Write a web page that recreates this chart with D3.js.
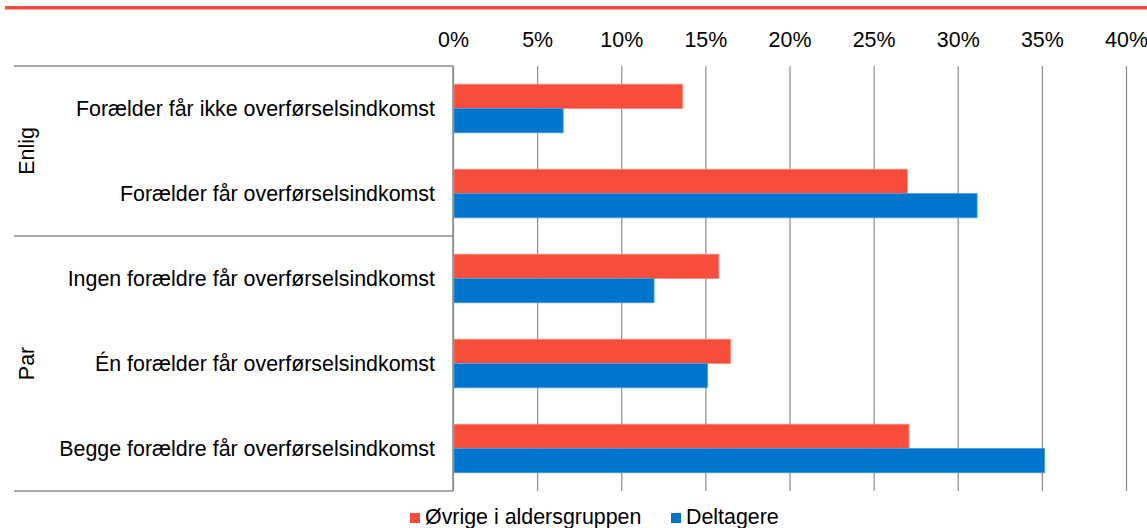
<!DOCTYPE html>
<html>
<head>
<meta charset="utf-8">
<script src="https://cdn.jsdelivr.net/npm/d3@7"></script>
<style>
  body { margin: 0; background: #fff; }
  text { font-family: "Liberation Sans", Arial, sans-serif; fill: #000; }
</style>
</head>
<body>
<div id="chart-container"></div>
<script>
// Chart data
const categories = [
  "Forælder får ikke overførselsindkomst",
  "Forælder får overførselsindkomst",
  "Ingen forældre får overførselsindkomst",
  "Én forælder får overførselsindkomst",
  "Begge forældre får overførselsindkomst"
];
const groups = [
  { name: "Enlig", count: 2 },
  { name: "Par", count: 3 }
];
const seriesNames = ["Øvrige i aldersgruppen", "Deltagere"];
const ovrige = [13.65, 27.0, 15.8, 16.5, 27.1];
const deltagere = [6.55, 31.15, 11.95, 15.13, 35.17];
const xTicks = [0, 5, 10, 15, 20, 25, 30, 35, 40];

(() => {
  const width = 1147, height = 528;
  const colors = ["#f94d3c", "#0075cd"];
  const strokes = ["#fb8a7e", "#4b9be0"];
  const values = [ovrige, deltagere];
  const fontSize = "21.4px";

  const svg = d3.select("#chart-container")
    .append("svg")
    .attr("width", width)
    .attr("height", height);

  // red line across the top
  svg.append("rect")
    .attr("x", 5).attr("y", 6)
    .attr("width", width - 5).attr("height", 3.5)
    .attr("fill", colors[0]);

  const plotTop = 66, plotBottom = 491;

  // X scale
  const x = d3.scaleLinear()
    .domain([0, 40])
    .range([453, 1126]);

  // Y scale for categories
  const y = d3.scaleBand()
    .domain(categories)
    .range([plotTop, plotBottom])
    .padding(0);

  // series inside each category
  const ySub = d3.scaleBand()
    .domain(seriesNames)
    .range([0, y.bandwidth()])
    .paddingInner(0)
    .paddingOuter(0.75);

  // top axis with gridlines
  const xAxis = d3.axisTop(x)
    .tickValues(xTicks)
    .tickSize(-(plotBottom - plotTop))
    .tickPadding(19)
    .tickFormat(d => d + "%");

  const gx = svg.append("g")
    .attr("transform", `translate(0,${plotTop})`)
    .call(xAxis);
  gx.select(".domain").remove();
  gx.selectAll(".tick line")
    .attr("stroke", "#8c8c8c")
    .attr("stroke-width", 1.2);
  gx.selectAll(".tick text")
    .style("font-size", fontSize)
    .style("font-family", "Liberation Sans, Arial, sans-serif")
    .attr("fill", "#000");

  // bars
  seriesNames.forEach((s, i) => {
    svg.selectAll(".bar-" + i)
      .data(categories)
      .enter().append("rect")
      .attr("class", "bar-" + i)
      .attr("x", x(0) + 1)
      .attr("y", d => y(d) + ySub(s))
      .attr("width", (d, j) => x(values[i][j]) - x(0) - 1)
      .attr("height", ySub.bandwidth())
      .attr("fill", colors[i])
      .attr("stroke", strokes[i])
      .attr("stroke-width", 0.8);
  });

  // category axis (multi-level box)
  const axisColor = "#8c8c8c";
  svg.append("line")
    .attr("x1", x(0)).attr("x2", x(0))
    .attr("y1", plotTop).attr("y2", plotBottom)
    .attr("stroke", axisColor).attr("stroke-width", 1.5);

  const boundaries = [plotTop];
  let acc = 0;
  groups.forEach(g => {
    acc += g.count;
    boundaries.push(y(categories[acc - 1]) + y.bandwidth());
  });
  svg.selectAll(".group-line")
    .data(boundaries)
    .enter().append("line")
    .attr("class", "group-line")
    .attr("x1", 14).attr("x2", x(0))
    .attr("y1", d => d).attr("y2", d => d)
    .attr("stroke", axisColor).attr("stroke-width", 1.5);

  // category labels
  svg.selectAll(".cat-label")
    .data(categories)
    .enter().append("text")
    .attr("class", "cat-label")
    .attr("x", x(0) - 18)
    .attr("y", d => y(d) + y.bandwidth() / 2)
    .attr("dy", "0.33em")
    .attr("text-anchor", "end")
    .style("font-size", fontSize)
    .text(d => d);

  // group labels, rotated
  svg.selectAll(".group-label")
    .data(groups)
    .enter().append("text")
    .attr("class", "group-label")
    .attr("transform", (g, i) => {
      const cy = (boundaries[i] + boundaries[i + 1]) / 2;
      return `translate(34,${cy}) rotate(-90)`;
    })
    .attr("text-anchor", "middle")
    .style("font-size", fontSize)
    .text(g => g.name);

  // legend
  const legendX = [410, 671];
  const legend = svg.selectAll(".legend")
    .data(seriesNames)
    .enter().append("g")
    .attr("class", "legend")
    .attr("transform", (d, i) => `translate(${legendX[i]},0)`);
  legend.append("rect")
    .attr("x", 0).attr("y", 513)
    .attr("width", 10).attr("height", 10)
    .attr("fill", (d, i) => colors[i]);
  legend.append("text")
    .attr("x", 15).attr("y", 524)
    .style("font-size", fontSize)
    .text(d => d);
})();
</script>
</body>
</html>
